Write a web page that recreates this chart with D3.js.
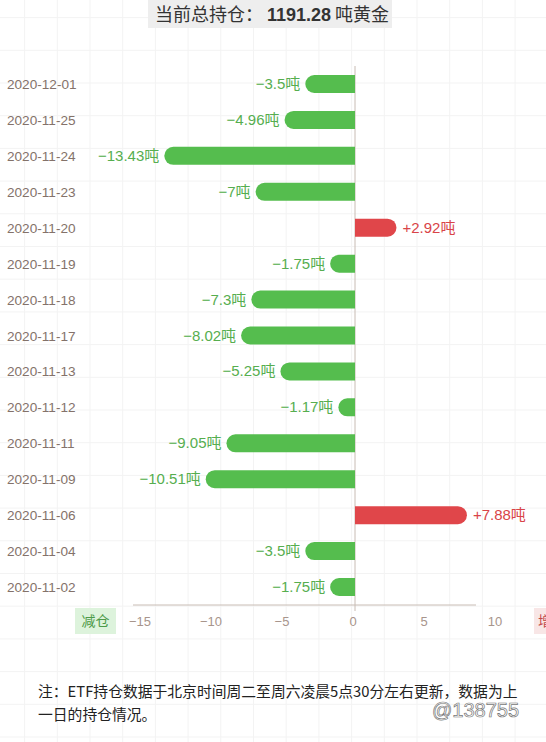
<!DOCTYPE html>
<html>
<head>
<meta charset="utf-8">
<script src="https://cdn.jsdelivr.net/npm/d3@7"></script>
<style>
  html, body { margin: 0; padding: 0; background: #fff; }
  svg { display: block; font-family: "Liberation Sans", "Noto Sans CJK SC", sans-serif; }
</style>
</head>
<body>
<svg id="chart" width="546" height="742"></svg>
<script>
// data
var dates = ["2020-12-01","2020-11-25","2020-11-24","2020-11-23","2020-11-20","2020-11-19","2020-11-18",
             "2020-11-17","2020-11-13","2020-11-12","2020-11-11","2020-11-09","2020-11-06","2020-11-04","2020-11-02"]
var changes = [-3.5,-4.96,-13.43,-7,2.92,-1.75,-7.3,-8.02,-5.25,-1.17,-9.05,-10.51,7.88,-3.5,-1.75]
var xTicks = [-15,-10,-5,0,5,10]
var totalHolding = "1191.28"
var noteLines = ["注：ETF持仓数据于北京时间周二至周六凌晨5点30分左右更新，数据为上","一日的持仓情况。"]

var W = 546, H = 742
var svg = d3.select("#chart")

// faint graph paper background
var grid = svg.append("g")
for(var gx = 24.6; gx < W; gx += 32.7){
    grid.append("line").attr("x1",gx).attr("x2",gx).attr("y1",0).attr("y2",H)
      .style("stroke","#f3f3f3").style("stroke-width",1)
}
for(var gy = 17.6; gy < H; gy += 32.7){
    grid.append("line").attr("y1",gy).attr("y2",gy).attr("x1",0).attr("x2",W)
      .style("stroke","#f3f3f3").style("stroke-width",1)
}

// watermarks (kept inside the page)
var wm = [[20,95,"金十数据"],[330,90,"金十数据"],[420,140,"JIN10.COM"],[150,330,"金十数据"],[250,170,"JIN10.COM"],
          [410,280,"JIN10.COM"],[30,470,"金十数据"],[220,480,"JIN10.COM"],[400,460,"金十数据"],[80,660,"JIN10.COM"],
          [340,640,"金十数据"],[20,300,"金十数据"],[330,725,"金十数据"],[40,735,"金十数据"]]
svg.append("g").selectAll("text").data(wm).enter().append("text")
  .attr("transform",function(d){return "translate("+d[0]+","+d[1]+") rotate(-25)"})
  .style("font-size","24px").style("font-weight","bold").style("font-family","Noto Sans CJK SC")
  .style("fill","#000").style("fill-opacity",0.025)
  .text(function(d){return d[2]})

// title
svg.append("rect").attr("x",148).attr("y",0).attr("width",244).attr("height",28).style("fill","#eeeeee")
var title = svg.append("text").attr("x",272).attr("y",21).style("text-anchor","middle")
  .style("font-size","18px").style("fill","#333").style("font-family","Noto Sans CJK SC")
title.append("tspan").text("当前总持仓：  ")
title.append("tspan").style("font-family","Liberation Sans").style("font-weight","bold").text(totalHolding)
title.append("tspan").text(" 吨黄金")

var x = d3.scaleLinear().domain([-15,10]).range([142,497])
var y = d3.scalePoint().domain(dates).range([84,587])
var barH = 18, r = barH/2

// zero line
svg.append("line").attr("x1",x(0)).attr("x2",x(0)).attr("y1",66).attr("y2",611)
  .style("stroke","#c8bcb4").style("stroke-width",1)
// bottom axis line
svg.append("line").attr("x1",133).attr("x2",476).attr("y1",605).attr("y2",605)
  .style("stroke","#c8bcb4").style("stroke-width",1)

// date labels
svg.append("g").selectAll("text").data(dates).enter().append("text")
  .attr("x",7).attr("y",function(d){return y(d)+5})
  .style("font-size","13.6px").style("fill","#84726a")
  .text(function(d){return d})

function barPath(v){
    var x0 = x(0), x1 = x(v), len = Math.abs(x1-x0)
    var rr = Math.min(r, len)
    var p = d3.path()
    if(v < 0){
        p.moveTo(x0, -r); p.lineTo(x1+rr, -r)
        p.arc(x1+rr, 0, r, -Math.PI/2, Math.PI/2, true)
        p.lineTo(x0, r); p.closePath()
    } else {
        p.moveTo(x0, -r); p.lineTo(x1-rr, -r)
        p.arc(x1-rr, 0, r, -Math.PI/2, Math.PI/2, false)
        p.lineTo(x0, r); p.closePath()
    }
    return p.toString()
}

var rows = svg.append("g").selectAll("g").data(dates).enter().append("g")
  .attr("transform",function(d){return "translate(0,"+y(d)+")"})

rows.append("path")
  .attr("d",function(d,i){return barPath(changes[i])})
  .style("fill",function(d,i){return changes[i] < 0 ? "#55bd4e" : "#e0464a"})

rows.append("text")
  .attr("x",function(d,i){var v = changes[i]; return v < 0 ? x(v)-5 : x(v)+6})
  .attr("y",5)
  .style("text-anchor",function(d,i){return changes[i] < 0 ? "end" : "start"})
  .style("font-size","15px")
  .style("fill",function(d,i){return changes[i] < 0 ? "#56ae4f" : "#d94448"})
  .text(function(d,i){var v = changes[i]; return (v < 0 ? "\u2212" + Math.abs(v) : "+" + v) + "吨"})

// tick labels
svg.append("g").selectAll("text").data(xTicks).enter().append("text")
  .attr("x",function(d){return x(d)-2}).attr("y",626)
  .style("text-anchor","middle").style("font-size","13px").style("fill","#a8958c")
  .text(function(d){return d < 0 ? "\u2212" + Math.abs(d) : d})

// legend tags
svg.append("rect").attr("x",75).attr("y",608).attr("width",41).attr("height",26).style("fill","#ddf3dc")
svg.append("text").attr("x",95.5).attr("y",626).style("text-anchor","middle")
  .style("font-size","14px").style("fill","#4d9a49").style("font-family","Noto Sans CJK SC").text("减仓")
svg.append("rect").attr("x",534).attr("y",608).attr("width",41).attr("height",26).style("fill","#f8e6e6")
svg.append("text").attr("x",538).attr("y",626)
  .style("font-size","14px").style("fill","#c24a4a").style("font-family","Noto Sans CJK SC").text("增仓")

// note
svg.append("g").selectAll("text").data(noteLines).enter().append("text")
  .attr("x",38).attr("y",function(d,i){return 697+i*23})
  .style("font-size","14.8px").style("fill","#222").style("font-family","Noto Sans CJK SC")
  .text(function(d){return d})

// weibo mark
svg.append("text").attr("x",432).attr("y",717).style("font-size","20px")
  .style("fill","#fff").style("stroke","#777").style("stroke-width",0.7)
  .text("@138755")
</script>
</body>
</html>
